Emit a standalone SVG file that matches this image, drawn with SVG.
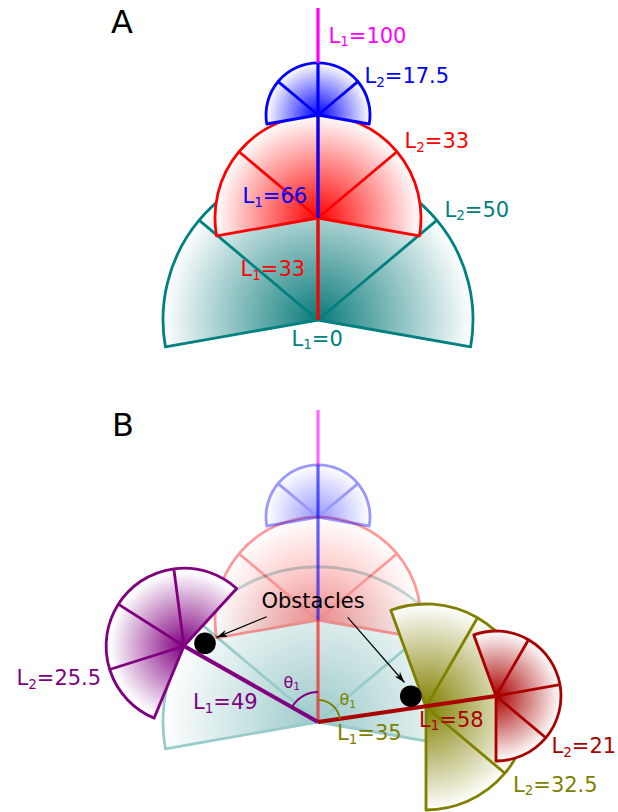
<svg xmlns="http://www.w3.org/2000/svg" width="618" height="812" viewBox="0 0 618 812">
<defs>
<radialGradient id="gTealA" gradientUnits="userSpaceOnUse" cx="318" cy="320" r="155"><stop offset="0" stop-color="#0b7b7b"/><stop offset="1" stop-color="#ffffff"/></radialGradient>
<radialGradient id="gRedA" gradientUnits="userSpaceOnUse" cx="318" cy="218" r="103"><stop offset="0" stop-color="#ff0000"/><stop offset="1" stop-color="#ffffff"/></radialGradient>
<radialGradient id="gBlueA" gradientUnits="userSpaceOnUse" cx="318" cy="115" r="52"><stop offset="0" stop-color="#0000ff"/><stop offset="1" stop-color="#ffffff"/></radialGradient>
<radialGradient id="gTealB" gradientUnits="userSpaceOnUse" cx="318" cy="722" r="155"><stop offset="0" stop-color="#0b7b7b"/><stop offset="1" stop-color="#ffffff"/></radialGradient>
<radialGradient id="gRedB" gradientUnits="userSpaceOnUse" cx="318" cy="620" r="103"><stop offset="0" stop-color="#ff0000"/><stop offset="1" stop-color="#ffffff"/></radialGradient>
<radialGradient id="gBlueB" gradientUnits="userSpaceOnUse" cx="318" cy="517" r="52"><stop offset="0" stop-color="#0000ff"/><stop offset="1" stop-color="#ffffff"/></radialGradient>
<radialGradient id="gPurple" gradientUnits="userSpaceOnUse" cx="184" cy="646" r="78"><stop offset="0" stop-color="#800080"/><stop offset="0.95" stop-color="#ffffff"/></radialGradient>
<radialGradient id="gOlive" gradientUnits="userSpaceOnUse" cx="426" cy="707" r="103"><stop offset="0" stop-color="#808000"/><stop offset="1" stop-color="#ffffff"/></radialGradient>
<radialGradient id="gDarkRed" gradientUnits="userSpaceOnUse" cx="496" cy="696" r="65"><stop offset="0" stop-color="#aa0000"/><stop offset="1" stop-color="#ffffff"/></radialGradient>
<marker id="arr" markerWidth="12" markerHeight="8" refX="11" refY="4" orient="auto" markerUnits="userSpaceOnUse"><path d="M0,0.5 L11,4 L0,7.5 L3,4 Z" fill="#000"/></marker>
</defs>
<style>
text{font-family:"DejaVu Sans","Liberation Sans",sans-serif;font-size:21px}
.sub{font-size:13.5px}
.sec{stroke-width:2.8;stroke-linejoin:round}
.spk{fill:none;stroke-width:2.8}
.arm{fill:none;stroke-width:3.2;stroke-linecap:butt}
.fade{opacity:0.4}
.teal{stroke:#008080}.red{stroke:#ff0000}.blue{stroke:#0000ff}.mag{stroke:#ff00ff}
.pur{stroke:#800080}.oli{stroke:#808000}.dred{stroke:#aa0000}
.th{font-size:16px}.thsub{font-size:10.5px}
</style>

<text x="111" y="33" style="font-size:32px" fill="#000">A</text>
<text x="112" y="435.5" style="font-size:32px" fill="#000">B</text>

<!-- Panel A -->
<g id="A-teal">
<path class="sec teal" fill="url(#gTealA)" d="M318,320 L470.6,346.9 A155,155 0 1 0 165.4,346.9 Z"/>
<path class="spk teal" d="M318,320 L436.7,220.4 M318,320 L199.3,220.4 M318,320 L318,165"/>
</g>
<g id="A-red">
<path class="sec red" fill="url(#gRedA)" d="M318,218 L419.4,235.9 A103,103 0 1 0 216.6,235.9 Z"/>
<path class="spk red" d="M318,218 L396.9,151.8 M318,218 L239.1,151.8 M318,218 L318,115"/>
</g>
<g id="A-blue">
<path class="sec blue" fill="url(#gBlueA)" d="M318,115 L369.2,124 A52,52 0 1 0 266.8,124 Z"/>
<path class="spk blue" d="M318,115 L357.8,81.6 M318,115 L278.2,81.6"/>
</g>
<g id="A-links">
<path class="arm mag" d="M318,8 L318,63"/>
<path class="arm blue" d="M318,63 L318,218"/>
<path class="arm red" d="M318,218 L318,320"/>
</g>
<g id="A-labels">
<text x="328.5" y="42.7" fill="#ff00ff">L<tspan class="sub" dy="3.5">1</tspan><tspan dy="-3.5">=100</tspan></text>
<text x="364.5" y="83.3" fill="#0000ff">L<tspan class="sub" dy="3.5">2</tspan><tspan dy="-3.5">=17.5</tspan></text>
<text x="404.5" y="148.3" fill="#ff0000">L<tspan class="sub" dy="3.5">2</tspan><tspan dy="-3.5">=33</tspan></text>
<text x="242.5" y="203" fill="#0000ff">L<tspan class="sub" dy="3.5">1</tspan><tspan dy="-3.5">=66</tspan></text>
<text x="444.5" y="216.7" fill="#008080">L<tspan class="sub" dy="3.5">2</tspan><tspan dy="-3.5">=50</tspan></text>
<text x="240.5" y="276" fill="#ff0000">L<tspan class="sub" dy="3.5">1</tspan><tspan dy="-3.5">=33</tspan></text>
<text x="291.5" y="345.7" fill="#008080">L<tspan class="sub" dy="3.5">1</tspan><tspan dy="-3.5">=0</tspan></text>
</g>

<!-- Panel B faded reference -->
<g id="B-teal" class="fade">
<path class="sec teal" fill="url(#gTealB)" d="M318,722 L470.6,748.9 A155,155 0 1 0 165.4,748.9 Z"/>
<path class="spk teal" d="M318,722 L436.7,622.4 M318,722 L199.3,622.4"/>
</g>
<g id="B-red" class="fade">
<path class="sec red" fill="url(#gRedB)" d="M318,620 L419.4,637.9 A103,103 0 1 0 216.6,637.9 Z"/>
<path class="spk red" d="M318,620 L396.9,553.8 M318,620 L239.1,553.8"/>
</g>
<g id="B-blue" class="fade">
<path class="sec blue" fill="url(#gBlueB)" d="M318,517 L369.2,526 A52,52 0 1 0 266.8,526 Z"/>
<path class="spk blue" d="M318,517 L357.8,483.6 M318,517 L278.2,483.6"/>
</g>
<g id="B-links" opacity="0.6">
<path class="arm mag" d="M318,410 L318,465"/>
<path class="arm blue" d="M318,465 L318,620"/>
<path class="arm red" d="M318,620 L318,722"/>
</g>

<!-- Panel B arms -->
<g id="B-purple">
<path class="sec pur" fill="url(#gPurple)" d="M184,646 L236.7,588.5 A78,78 0 1 0 154.1,718.1 Z"/>
<path class="spk pur" d="M184,646 L173.8,568.7 M184,646 L118.2,604.1 M184,646 L109.6,669.5"/>
</g>
<g id="B-olive">
<path class="sec oli" fill="url(#gOlive)" d="M426,707 L390.8,610.2 A103,103 0 1 1 426,810 Z"/>
<path class="spk oli" d="M426,707 L477.5,617.8 M426,707 L504.9,773.2"/>
</g>
<g id="B-darkred">
<path class="sec dred" fill="url(#gDarkRed)" d="M496,696 L473.8,634.9 A65,65 0 1 1 496,761 Z"/>
<path class="spk dred" d="M496,696 L528.5,639.7 M496,696 L560,684.7 M496,696 L545.8,737.8"/>
</g>
<g id="B-links-active">
<path class="arm pur" style="stroke-width:4" d="M318,722 L184,646"/>
<path class="arm dred" style="stroke-width:4" d="M318,722 L496,696"/>
<path fill="none" stroke="#800080" stroke-width="2" d="M318,692 A30,30 0 0 0 291.9,707.2"/>
<path fill="none" stroke="#808000" stroke-width="2" d="M318,700 A22,22 0 0 1 339.8,718.8"/>
</g>
<g id="obstacles">
<circle cx="205" cy="643.3" r="10.8" fill="#000"/>
<circle cx="410.8" cy="696.2" r="10.8" fill="#000"/>
<text x="261.5" y="607.5" fill="#000">Obstacles</text>
</g>
<g id="connectors" fill="none" stroke="#000" stroke-width="1.2">
<path d="M266.7,616.7 L216.5,637.4" marker-end="url(#arr)"/>
<path d="M347.7,617.3 L404.5,682.5" marker-end="url(#arr)"/>
</g>
<g id="B-labels">
<text x="16.5" y="685" fill="#800080">L<tspan class="sub" dy="3.5">2</tspan><tspan dy="-3.5">=25.5</tspan></text>
<text x="193" y="709" fill="#800080">L<tspan class="sub" dy="3.5">1</tspan><tspan dy="-3.5">=49</tspan></text>
<text x="337" y="740" fill="#808000">L<tspan class="sub" dy="3.5">1</tspan><tspan dy="-3.5">=35</tspan></text>
<text x="419" y="726.7" fill="#aa0000">L<tspan class="sub" dy="3.5">1</tspan><tspan dy="-3.5">=58</tspan></text>
<text x="551.5" y="753.3" fill="#aa0000">L<tspan class="sub" dy="3.5">2</tspan><tspan dy="-3.5">=21</tspan></text>
<text x="513" y="791.7" fill="#808000">L<tspan class="sub" dy="3.5">2</tspan><tspan dy="-3.5">=32.5</tspan></text>
<text class="th" x="283.5" y="687.5" fill="#800080">θ<tspan class="thsub" dy="2.5">1</tspan></text>
<text class="th" x="339.5" y="705" fill="#808000">θ<tspan class="thsub" dy="2.5">1</tspan></text>
</g>
</svg>
